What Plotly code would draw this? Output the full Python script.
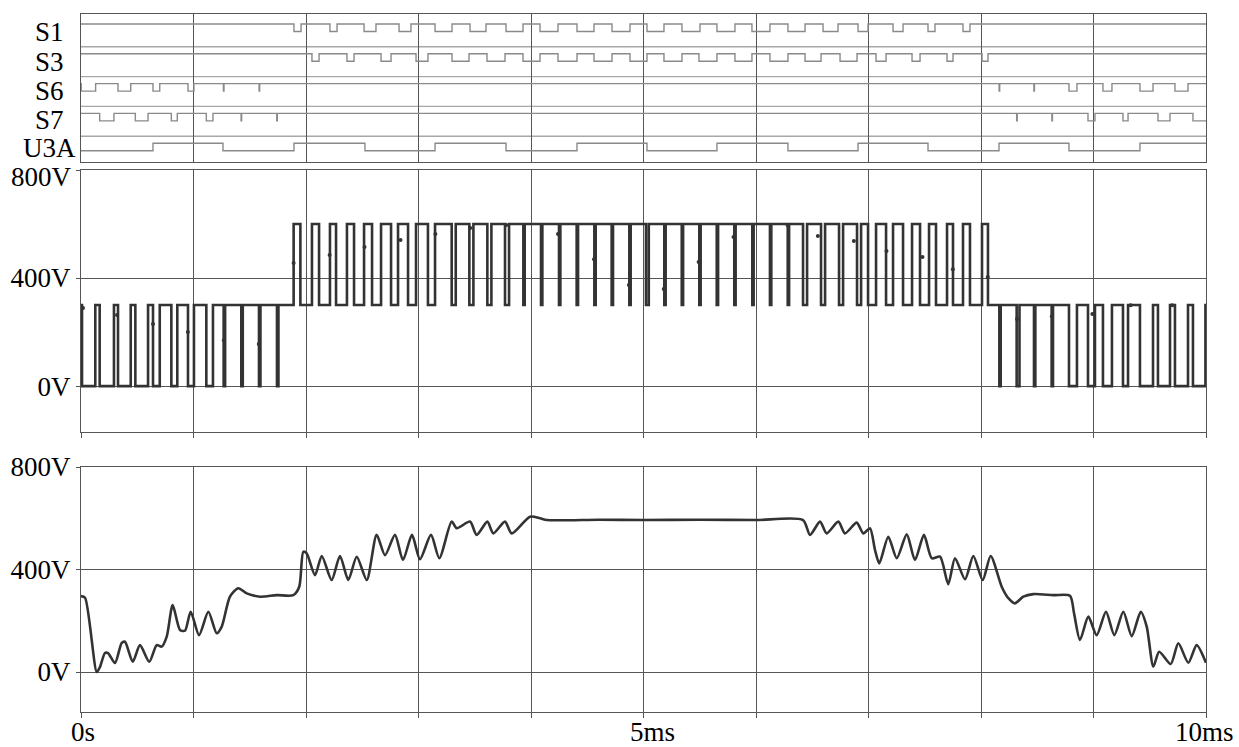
import plotly.graph_objects as go

# ---------------- data (time in ms, voltage in V) ----------------
# digital switching signals: intervals where the signal is low (S1,S3,S6,S7) / high (U3A)
s1_low = [(1.893, 1.956), (2.213, 2.276), (2.516, 2.622), (2.827, 2.933), (3.147, 3.298),
          (3.458, 3.600), (3.778, 3.929), (4.080, 4.240), (4.409, 4.560), (4.720, 4.880),
          (5.031, 5.182), (5.342, 5.502), (5.653, 5.813), (5.964, 6.124), (6.284, 6.436),
          (6.596, 6.729), (6.907, 6.996), (7.218, 7.307), (7.529, 7.591), (7.840, 7.902)]
s3_low = [(2.053, 2.116), (2.364, 2.427), (2.667, 2.756), (2.978, 3.084), (3.298, 3.449),
          (3.609, 3.769), (3.929, 4.080), (4.240, 4.409), (4.560, 4.720), (4.880, 5.031),
          (5.182, 5.342), (5.493, 5.653), (5.813, 5.964), (6.124, 6.284), (6.436, 6.578),
          (6.747, 6.898), (7.067, 7.156), (7.387, 7.458), (7.698, 7.751), (8.009, 8.062)]
s6_low = [(0.002, 0.130), (0.329, 0.442), (0.640, 0.700), (0.951, 1.004), (1.266, 1.271),
          (1.583, 1.588), (8.161, 8.166), (8.470, 8.475), (8.782, 8.853), (9.084, 9.164),
          (9.413, 9.529), (9.724, 9.840)]
s7_low = [(0.166, 0.293), (0.483, 0.596), (0.803, 0.856), (1.114, 1.173), (1.423, 1.428),
          (1.740, 1.745), (8.317, 8.322), (8.630, 8.635), (8.951, 9.013), (9.262, 9.307),
          (9.573, 9.680), (9.884, 10.05)]
u3a_high = [(0.640, 1.262), (1.893, 2.524), (3.147, 3.778), (4.409, 5.031), (5.653, 6.284),
            (6.907, 7.529), (8.160, 8.782), (9.413, 10.05)]
dig_names = ["S1", "S3", "S6", "S7", "U3A"]

# inverter output voltage (PWM): switching instants and the level after each instant
pwm_t = [0.000, 0.009, 0.127, 0.166, 0.293, 0.329, 0.442, 0.483, 0.596, 0.640,
         0.700, 0.803, 0.856, 0.951, 1.004, 1.114, 1.173,
         1.268, 1.281, 1.425, 1.438, 1.582, 1.595, 1.742, 1.755,
         1.890, 1.950, 2.053, 2.116, 2.213, 2.267, 2.364, 2.427, 2.516, 2.587,
         2.667, 2.756, 2.818, 2.907, 2.978, 3.084, 3.147,
         3.295, 3.331, 3.452, 3.488, 3.612, 3.648, 3.769, 3.805,
         3.932, 3.944, 4.089, 4.101, 4.249, 4.261, 4.406, 4.418, 4.563, 4.575,
         4.717, 4.729, 4.874, 4.886, 5.022, 5.047, 5.185, 5.197, 5.340, 5.352,
         5.496, 5.508, 5.651, 5.663, 5.807, 5.819, 5.967, 5.979, 6.124, 6.136,
         6.282, 6.294, 6.418, 6.454, 6.578, 6.614, 6.738, 6.774, 6.898, 6.934,
         6.996, 7.067, 7.156, 7.218, 7.307, 7.387, 7.458, 7.538, 7.600, 7.698,
         7.751, 7.840, 7.902, 8.009, 8.062,
         8.163, 8.175, 8.317, 8.342, 8.471, 8.483, 8.628, 8.640,
         8.782, 8.853, 8.951, 9.013, 9.084, 9.164, 9.262, 9.307, 9.413, 9.529,
         9.573, 9.680, 9.724, 9.840, 9.884, 9.995, 10.0]
pwm_v = [300, 0, 300, 0, 300, 0, 300, 0, 300, 0,
         300, 0, 300, 0, 300, 0, 300,
         0, 300, 0, 300, 0, 300, 0, 300,
         600, 300, 600, 300, 600, 300, 600, 300, 600, 300,
         600, 300, 600, 300, 600, 300, 600,
         300, 600, 300, 600, 300, 600, 300, 600,
         300, 600, 300, 600, 300, 600, 300, 600, 300, 600,
         300, 600, 300, 600, 300, 600, 300, 600, 300, 600,
         300, 600, 300, 600, 300, 600, 300, 600, 300, 600,
         300, 600, 300, 600, 300, 600, 300, 600, 300, 600,
         300, 600, 300, 600, 300, 600, 300, 600, 300, 600,
         300, 600, 300, 600, 300,
         0, 300, 0, 300, 0, 300, 0, 300,
         0, 300, 0, 300, 0, 300, 0, 300, 0, 300,
         0, 300, 0, 300, 0, 300, 300]
# trace markers on the PWM curve
mk_t = [0.018, 0.32, 0.64, 0.95, 1.27, 1.58, 1.89, 2.21, 2.52, 2.84, 3.15, 3.46, 3.78,
        4.24, 4.56, 4.87, 5.18, 5.49, 5.80, 6.28, 6.55, 6.87, 7.16, 7.48, 7.75, 8.06,
        8.32, 8.63, 8.99, 9.33, 9.70]
mk_v = [289, 263, 230, 200, 170, 156, 456, 485, 515, 541, 563, 585, 596,
        563, 470, 374, 359, 459, 552, 596, 556, 537, 500, 478, 433, 404,
        248, 259, 267, 299, 299]

# filtered output voltage
out_t = [0.0, 0.036, 0.140, 0.169, 0.213, 0.240, 0.302, 0.362, 0.391, 0.460, 0.524, 0.607,
         0.673, 0.717, 0.762, 0.815, 0.880, 0.924, 0.975, 1.049, 1.132, 1.206, 1.251, 1.324,
         1.398, 1.473, 1.591, 1.740, 1.887, 1.940, 1.976, 2.006, 2.080, 2.140, 2.228, 2.302,
         2.376, 2.451, 2.540, 2.628, 2.702, 2.791, 2.862, 2.942, 3.013, 3.111, 3.185, 3.295,
         3.340, 3.458, 3.517, 3.612, 3.665, 3.769, 3.828, 3.991, 4.080, 4.140, 4.600, 5.000,
         5.500, 6.000, 6.418, 6.480, 6.569, 6.628, 6.732, 6.791, 6.895, 6.954, 7.013, 7.058,
         7.096, 7.176, 7.251, 7.340, 7.413, 7.493, 7.562, 7.636, 7.709, 7.769, 7.858, 7.932,
         8.015, 8.086, 8.184, 8.243, 8.302, 8.376, 8.465, 8.643, 8.791, 8.827, 8.880, 8.954,
         9.028, 9.111, 9.185, 9.265, 9.340, 9.420, 9.473, 9.532, 9.584, 9.686, 9.754, 9.843,
         9.917, 10.0]
out_v = [296, 290, 0, 20, 74, 74, 35, 114, 118, 40, 105, 40,
         105, 99, 138, 261, 164, 161, 235, 144, 235, 151, 177, 294,
         327, 307, 294, 300, 300, 333, 469, 463, 378, 453, 359, 453,
         359, 450, 359, 535, 456, 535, 437, 535, 440, 535, 444, 587,
         561, 587, 535, 587, 541, 587, 541, 606, 600, 593, 594, 593,
         594, 593, 593, 535, 587, 541, 587, 541, 583, 541, 561, 476,
         424, 528, 444, 537, 437, 535, 444, 450, 343, 444, 362, 453,
         359, 453, 333, 288, 268, 294, 304, 300, 298, 229, 125, 216,
         144, 235, 144, 235, 140, 235, 177, 21, 79, 31, 112, 36,
         105, 36]
x_label_t = [0, 5, 10]
x_label_text = ["0s", "5ms", "10ms"]

# ---------------- styling / layout ----------------
FONT = "Liberation Serif"
FS = 27
GRID = "#555555"
DIG = "#8a8a8a"
SEP = "#a8a8a8"
TRACE = "#333333"
W, H = 1239, 747
# plot-area edges in page pixels
LEFT, RIGHT, TOP, BOTTOM = 81, 1206, 14, 712
ML, MT, MR, MB = LEFT, TOP, W - RIGHT, H - BOTTOM
PH = BOTTOM - TOP
def dom(top_px, bot_px):
    return [(BOTTOM - bot_px) / PH, (BOTTOM - top_px) / PH]

ROW0, PITCH, DROP = 24.0, 29.8, 7.5  # top-panel row geometry (panel pixel units)

fig = go.Figure()

def steps(intervals, base, alt):
    xs, ys = [0.0], [base]
    for a, b in intervals:
        xs += [a, b]
        ys += [alt, base]
    xs.append(10.0)
    ys.append(ys[-1])
    return xs, ys

label_y = [32, 62, 91, 120, 148]
dig_sets = [(s1_low, False), (s3_low, False), (s6_low, False), (s7_low, False), (u3a_high, True)]
for i, (iv, start_low) in enumerate(dig_sets):
    hi = ROW0 + PITCH * i
    lo = hi + DROP
    if start_low:
        xs, ys = steps(iv, lo, hi)
    else:
        xs, ys = steps(iv, hi, lo)
    fig.add_trace(go.Scatter(x=xs, y=ys, mode="lines", line=dict(color=DIG, width=1.4, shape="hv"),
                             xaxis="x", yaxis="y", hoverinfo="skip"))
    if i > 0:
        fig.add_shape(type="line", xref="x", yref="y", x0=0, x1=10, y0=hi - 7, y1=hi - 7,
                      line=dict(color=SEP, width=1.4), layer="below")
    fig.add_annotation(text=dig_names[i], xref="paper", yref="y", x=(49 - LEFT) / (RIGHT - LEFT),
                       y=label_y[i], xanchor="center", yanchor="middle", showarrow=False,
                       font=dict(family=FONT, size=FS, color="black"))

fig.add_trace(go.Scatter(x=pwm_t, y=pwm_v, mode="lines", line=dict(color=TRACE, width=2.6, shape="hv"),
                         xaxis="x2", yaxis="y2", hoverinfo="skip"))
fig.add_trace(go.Scatter(x=mk_t, y=mk_v, mode="markers", marker=dict(color=TRACE, size=4),
                         xaxis="x2", yaxis="y2", hoverinfo="skip"))
fig.add_trace(go.Scatter(x=out_t, y=out_v, mode="lines",
                         line=dict(color=TRACE, width=2.6, shape="spline", smoothing=0.7),
                         xaxis="x3", yaxis="y3", hoverinfo="skip"))

xcommon = dict(range=[0, 10], tickvals=list(range(11)), showgrid=True, gridcolor=GRID, gridwidth=1,
               showline=True, mirror=True, linecolor=GRID, linewidth=1, zeroline=False,
               automargin=False, showticklabels=False)
ycommon = dict(showgrid=True, gridcolor=GRID, gridwidth=1, showline=True, mirror=True,
               linecolor=GRID, linewidth=1, zeroline=False, ticks="outside", ticklen=4,
               automargin=False, tickcolor=GRID, tickfont=dict(family=FONT, size=FS, color="black"))

fig.update_layout(
    width=W, height=H, margin=dict(l=ML, r=MR, t=MT, b=MB, autoexpand=False),
    plot_bgcolor="white", paper_bgcolor="white", showlegend=False,
    font=dict(family=FONT, size=FS, color="black"),
    xaxis=dict(xcommon, anchor="y", ticks=""),
    yaxis=dict(domain=dom(14, 162), range=[162, 14], showgrid=False, showticklabels=False,
               showline=True, mirror=True, linecolor=GRID, zeroline=False, ticks="",
               automargin=False),
    xaxis2=dict(xcommon, anchor="y2", ticks="outside", ticklen=5, tickcolor=GRID),
    yaxis2=dict(ycommon, domain=dom(170, 432), range=[-170, 800], tickvals=[0, 400, 800],
                ticktext=["0V", "400V", ""]),
    xaxis3=dict(xcommon, anchor="y3", ticks="outside", ticklen=5, tickcolor=GRID),
    yaxis3=dict(ycommon, domain=dom(467, 712), range=[-156, 800], tickvals=[0, 400, 800],
                ticktext=["0V", "400V", "800V"]),
)
fig.add_annotation(text="800V", xref="x2 domain", yref="y2", x=0, y=800, xanchor="right",
                   yanchor="middle", xshift=-7, yshift=-7, showarrow=False,
                   font=dict(family=FONT, size=FS, color="black"))
# time-axis labels (PSpice places them just under the frame)
x_shift = [2, 9, -2]
for t, txt, dx in zip(x_label_t, x_label_text, x_shift):
    fig.add_annotation(text=txt, xref="x3", yref="paper", x=t, y=(BOTTOM - 732) / PH,
                       xanchor="center", yanchor="middle", xshift=dx, showarrow=False,
                       font=dict(family=FONT, size=FS, color="black"))

fig.write_html("out.html", config={"displayModeBar": False},
               post_script="document.body.style.margin='0px';document.body.style.overflow='hidden';")
